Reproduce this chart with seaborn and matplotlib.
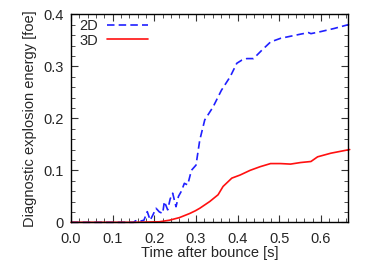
import matplotlib
matplotlib.use("Agg")
import matplotlib.pyplot as plt
import seaborn as sns
import pandas as pd
from matplotlib.ticker import MultipleLocator

t2d = [0.0, 0.10, 0.15, 0.155, 0.165, 0.175, 0.183, 0.19, 0.197, 0.204, 0.212, 0.22, 0.224,
       0.232, 0.238, 0.244, 0.252, 0.258, 0.265, 0.272, 0.28, 0.289, 0.30, 0.309, 0.321,
       0.341, 0.361, 0.382, 0.398, 0.41, 0.422, 0.438, 0.458, 0.479, 0.503, 0.527,
       0.551, 0.57, 0.576, 0.6, 0.632, 0.669]
e2d = [0.0, 0.0, 0.0, 0.003, 0.002, 0.004, 0.0205, 0.004, 0.015, 0.027, 0.02, 0.017, 0.04,
       0.024, 0.045, 0.056, 0.03, 0.05, 0.06, 0.075, 0.072, 0.1, 0.11, 0.158, 0.197,
       0.222, 0.254, 0.28, 0.306, 0.312, 0.315, 0.315, 0.331, 0.347, 0.354, 0.358,
       0.362, 0.365, 0.363, 0.367, 0.373, 0.381]

t3d = [0.0, 0.15, 0.212, 0.236, 0.26, 0.285, 0.298, 0.309, 0.333, 0.353, 0.365, 0.386,
       0.406, 0.43, 0.454, 0.479, 0.503, 0.527, 0.551, 0.576, 0.592, 0.624, 0.669]
e3d = [0.0, 0.0, 0.001, 0.004, 0.009, 0.017, 0.022, 0.027, 0.04, 0.053, 0.069, 0.085,
       0.091, 0.1, 0.107, 0.113, 0.113, 0.112, 0.115, 0.117, 0.126, 0.133, 0.14]

xticks = [0.0, 0.1, 0.2, 0.3, 0.4, 0.5, 0.6]
yticks = [0.0, 0.1, 0.2, 0.3, 0.4]
ytick_labels = ["0", "0.1", "0.2", "0.3", "0.4"]

sns.set_theme(style="ticks")
plt.rcParams['font.family'] = ['Liberation Sans', 'DejaVu Sans']

df2 = pd.DataFrame({"t": t2d, "e": e2d})
df3 = pd.DataFrame({"t": t3d, "e": e3d})

fig = plt.figure(figsize=(3.74, 2.62), dpi=100)
ax = fig.add_axes([0.19, 0.1515, 0.7405, 0.7935])

sns.lineplot(data=df2, x="t", y="e", ax=ax, color="#2020ff", lw=1.2, label="2D",
             dashes=False, clip_on=False)
ax.lines[-1].set_dashes([4.5, 2.5])
sns.lineplot(data=df3, x="t", y="e", ax=ax, color="#ff1010", lw=1.2, label="3D",
             clip_on=False)

ax.set_xlim(0, 0.665)
ax.set_ylim(0, 0.4)
ax.set_xticks(xticks)
ax.set_xticklabels([f"{v:.1f}" for v in xticks])
ax.set_yticks(yticks)
ax.set_yticklabels(ytick_labels)
ax.xaxis.set_minor_locator(MultipleLocator(0.02))
ax.yaxis.set_minor_locator(MultipleLocator(0.02))
ax.tick_params(which="both", direction="in", top=True, right=True, labelsize=10.5,
               color="#333333")
ax.tick_params(axis="x", pad=7)
ax.tick_params(axis="y", pad=5)
ax.tick_params(which="major", length=5, width=0.8)
ax.tick_params(which="minor", length=3, width=0.6)
for s in ax.spines.values():
    s.set_linewidth(1.0)
    s.set_color("black")

ax.set_xlabel("Time after bounce [s]", fontsize=10.5, labelpad=0)
ax.set_ylabel("Diagnostic explosion energy [foe]", fontsize=10.5, labelpad=5)

leg = ax.legend(loc="upper left", bbox_to_anchor=(0.015, 1.0), frameon=False,
                fontsize=10.5, markerfirst=False,
                handlelength=2.8, handletextpad=0.6, borderaxespad=0.0,
                borderpad=0.3, labelspacing=0.05)

fig.savefig("out.png", dpi=100)
